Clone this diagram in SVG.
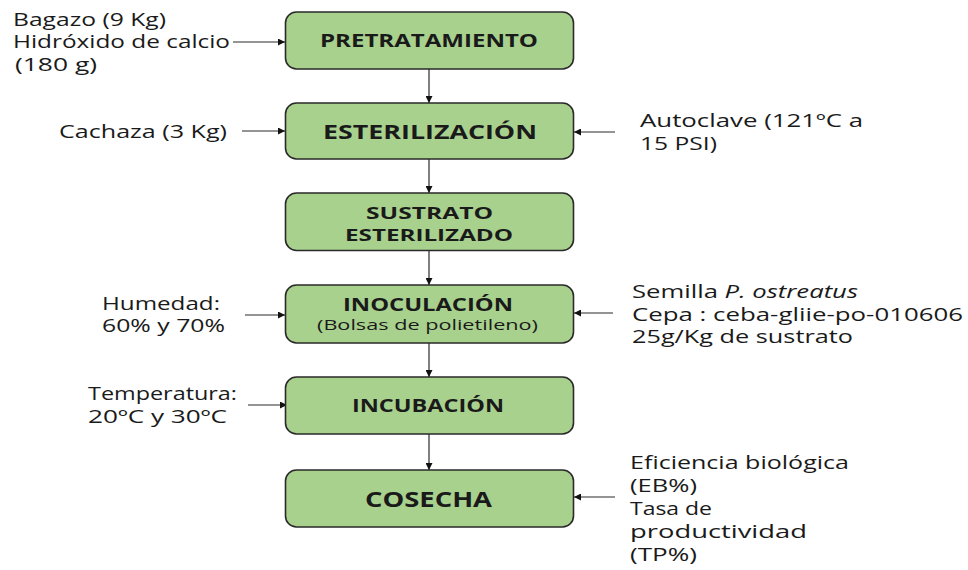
<svg xmlns="http://www.w3.org/2000/svg" width="968" height="570" viewBox="0 0 968 570">
<style>
.box{fill:#a9d18e;stroke:#2a2a2a;stroke-width:1.6}
.t{font-family:"Open Sans","DejaVu Sans",sans-serif;fill:#1a1a1a}
.b{font-weight:bold;text-anchor:middle}
.n{font-size:18px}
.c{stroke:#2a2a2a;stroke-width:1.2;fill:none;marker-end:url(#ah)}
</style>
<defs>
<marker id="ah" viewBox="0 0 10 10" refX="10" refY="5" markerWidth="7" markerHeight="7" markerUnits="userSpaceOnUse" orient="auto">
<path d="M0,0 L10,5 L0,10 z" fill="#111"/>
</marker>
</defs>
<rect width="968" height="570" fill="#fff"/>
<g id="connectors">
<line class="c" x1="429" y1="69" x2="429" y2="103"/>
<line class="c" x1="429" y1="159" x2="429" y2="193"/>
<line class="c" x1="429" y1="251" x2="429" y2="285"/>
<line class="c" x1="429" y1="343" x2="429" y2="377"/>
<line class="c" x1="429" y1="434" x2="429" y2="470"/>
<line class="c" x1="233" y1="42" x2="285" y2="42"/>
<line class="c" x1="242" y1="131" x2="285" y2="131"/>
<line class="c" x1="245" y1="315" x2="285" y2="315"/>
<line class="c" x1="248" y1="405" x2="287" y2="405"/>
<line class="c" x1="615" y1="132" x2="574" y2="132"/>
<line class="c" x1="613" y1="313" x2="574" y2="313"/>
<line class="c" x1="615" y1="497" x2="574" y2="497"/>
</g>
<g id="pretratamiento">
<rect class="box" x="285.5" y="12" width="288" height="57" rx="11"/>
<text class="t b" x="429" y="47" font-size="18" textLength="218" lengthAdjust="spacingAndGlyphs">PRETRATAMIENTO</text>
</g>
<g id="esterilizacion">
<rect class="box" x="285.5" y="103" width="288" height="56" rx="11"/>
<text class="t b" x="430" y="139" font-size="20" textLength="214" lengthAdjust="spacingAndGlyphs">ESTERILIZACIÓN</text>
</g>
<g id="sustrato">
<rect class="box" x="285.5" y="193" width="288" height="57.5" rx="11"/>
<text class="t b" x="429.5" y="219" font-size="16" textLength="127" lengthAdjust="spacingAndGlyphs">SUSTRATO</text>
<text class="t b" x="429" y="241" font-size="16" textLength="168" lengthAdjust="spacingAndGlyphs">ESTERILIZADO</text>
</g>
<g id="inoculacion">
<rect class="box" x="285.5" y="285" width="288" height="58" rx="11"/>
<text class="t b" x="428" y="311" font-size="18" textLength="170" lengthAdjust="spacingAndGlyphs">INOCULACIÓN</text>
<text class="t" x="427.5" y="330" font-size="15" text-anchor="middle" textLength="221" lengthAdjust="spacingAndGlyphs">(Bolsas de polietileno)</text>
</g>
<g id="incubacion">
<rect class="box" x="285.5" y="377" width="288" height="57" rx="11"/>
<text class="t b" x="428" y="412" font-size="17" textLength="152" lengthAdjust="spacingAndGlyphs">INCUBACIÓN</text>
</g>
<g id="cosecha">
<rect class="box" x="285.5" y="470" width="288" height="57" rx="11"/>
<text class="t b" x="428.5" y="507" font-size="21" textLength="127" lengthAdjust="spacingAndGlyphs">COSECHA</text>
</g>
<g id="in-bagazo">
<text class="t n" x="13" y="26" textLength="153" lengthAdjust="spacingAndGlyphs">Bagazo (9 Kg)</text>
<text class="t n" x="13" y="48" textLength="217" lengthAdjust="spacingAndGlyphs">Hidróxido de calcio</text>
<text class="t n" x="15" y="70.5" textLength="82" lengthAdjust="spacingAndGlyphs">(180 g)</text>
</g>
<g id="in-cachaza">
<text class="t n" x="59" y="138" textLength="168" lengthAdjust="spacingAndGlyphs">Cachaza (3 Kg)</text>
</g>
<g id="in-humedad">
<text class="t n" x="102" y="310" textLength="118" lengthAdjust="spacingAndGlyphs">Humedad:</text>
<text class="t n" x="102" y="332" textLength="123" lengthAdjust="spacingAndGlyphs">60% y 70%</text>
</g>
<g id="in-temperatura">
<text class="t n" x="88" y="400" textLength="149" lengthAdjust="spacingAndGlyphs">Temperatura:</text>
<text class="t n" x="88" y="423" textLength="139" lengthAdjust="spacingAndGlyphs">20ºC y 30ºC</text>
</g>
<g id="in-autoclave">
<text class="t n" x="640" y="127" textLength="223" lengthAdjust="spacingAndGlyphs">Autoclave (121ºC a</text>
<text class="t n" x="640" y="150" textLength="77" lengthAdjust="spacingAndGlyphs">15 PSI)</text>
</g>
<g id="in-semilla">
<text class="t n" x="632" y="298" textLength="226" lengthAdjust="spacingAndGlyphs">Semilla <tspan font-style="italic">P. ostreatus</tspan></text>
<text class="t n" x="632" y="321" textLength="331" lengthAdjust="spacingAndGlyphs">Cepa : ceba-gliie-po-010606</text>
<text class="t n" x="632" y="343" textLength="221" lengthAdjust="spacingAndGlyphs">25g/Kg de sustrato</text>
</g>
<g id="out-eficiencia">
<text class="t n" x="630" y="469" textLength="219" lengthAdjust="spacingAndGlyphs">Eficiencia biológica</text>
<text class="t n" x="630" y="492" textLength="67" lengthAdjust="spacingAndGlyphs">(EB%)</text>
<text class="t n" x="630" y="515" textLength="82" lengthAdjust="spacingAndGlyphs">Tasa de</text>
<text class="t n" x="630" y="538" textLength="177" lengthAdjust="spacingAndGlyphs">productividad</text>
<text class="t n" x="630" y="561" textLength="67" lengthAdjust="spacingAndGlyphs">(TP%)</text>
</g>
</svg>
